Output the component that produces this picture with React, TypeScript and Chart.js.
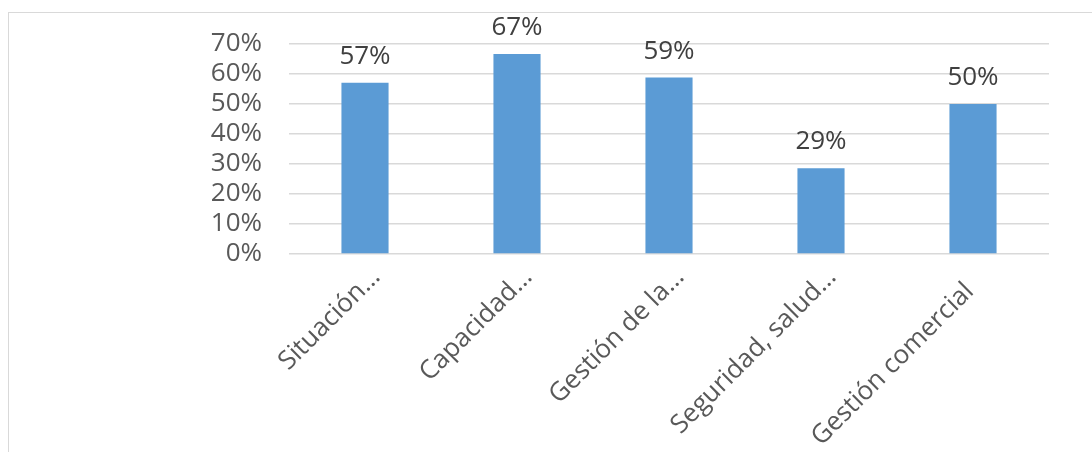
import React, { useEffect, useRef } from "react";
import { Chart, registerables } from "chart.js";

Chart.register(...registerables);

const categories: string[] = [
  "Situación…",
  "Capacidad…",
  "Gestión de la…",
  "Seguridad, salud…",
  "Gestión comercial   ",
];
const values: number[] = [57.1, 66.7, 58.8, 28.6, 50.0];
const yMax = 70;
const yStep = 10;

const FONT = "'Open Sans', 'DejaVu Sans', sans-serif";

const valueLabelPlugin = {
  id: "valueLabels",
  afterDatasetsDraw(chart: any) {
    const ctx = chart.ctx;
    const meta = chart.getDatasetMeta(0);
    ctx.save();
    ctx.font = `26px ${FONT}`;
    ctx.fillStyle = "#404040";
    ctx.textAlign = "center";
    ctx.textBaseline = "alphabetic";
    meta.data.forEach((bar: any, i: number) => {
      const v = chart.data.datasets[0].data[i] as number;
      ctx.fillText(`${Math.round(v)}%`, bar.x, bar.y - 19);
    });
    ctx.restore();
  },
};

export default function App() {
  const canvasRef = useRef<HTMLCanvasElement | null>(null);

  useEffect(() => {
    if (!canvasRef.current) return;
    const chart = new Chart(canvasRef.current, {
      type: "bar",
      data: {
        labels: categories,
        datasets: [
          {
            data: values,
            backgroundColor: "#5B9BD5",
            borderWidth: 0,
            barPercentage: 1,
            categoryPercentage: 0.31,
          },
        ],
      },
      options: {
        responsive: false,
        animation: false,
        layout: { padding: { left: 0, right: 43, top: 44, bottom: 0 } },
        plugins: {
          legend: { display: false },
          tooltip: { enabled: false },
        },
        scales: {
          x: {
            grid: { display: false, drawTicks: false },
            border: { display: false },
            ticks: {
              minRotation: 45,
              maxRotation: 45,
              autoSkip: false,
              padding: 8,
              labelOffset: 11,
              color: "#595959",
              font: { family: FONT, size: 26 },
            },
            afterFit: (scale: any) => {
              scale.height = 198;
              scale.paddingLeft = 0;
              scale.paddingRight = 0;
            },
          },
          y: {
            min: 0,
            max: yMax,
            grid: { color: "#d9d9d9", lineWidth: 1.5, drawTicks: false },
            border: { display: false },
            ticks: {
              stepSize: yStep,
              autoSkip: false,
              padding: 27,
              color: "#595959",
              font: { family: FONT, size: 26 },
              callback: (v: any) => `${v}%`,
            },
            afterFit: (scale: any) => {
              scale.width = 289;
              scale.paddingTop = 0;
              scale.paddingBottom = 0;
            },
          },
        },
      },
      plugins: [valueLabelPlugin],
    });
    return () => chart.destroy();
  }, []);

  return (
    <div style={{ position: "relative", width: 1092, height: 452, overflow: "hidden", background: "#fff" }}>
      <style>{`body{margin:0;}`}</style>
      <div
        style={{
          position: "absolute",
          left: 8,
          top: 12,
          width: 1200,
          height: 600,
          border: "1px solid #d9d9d9",
          boxSizing: "border-box",
        }}
      />
      <canvas
        ref={canvasRef}
        width={1092}
        height={452}
        style={{ position: "absolute", left: 0, top: 0, width: 1092, height: 452 }}
      />
    </div>
  );
}
